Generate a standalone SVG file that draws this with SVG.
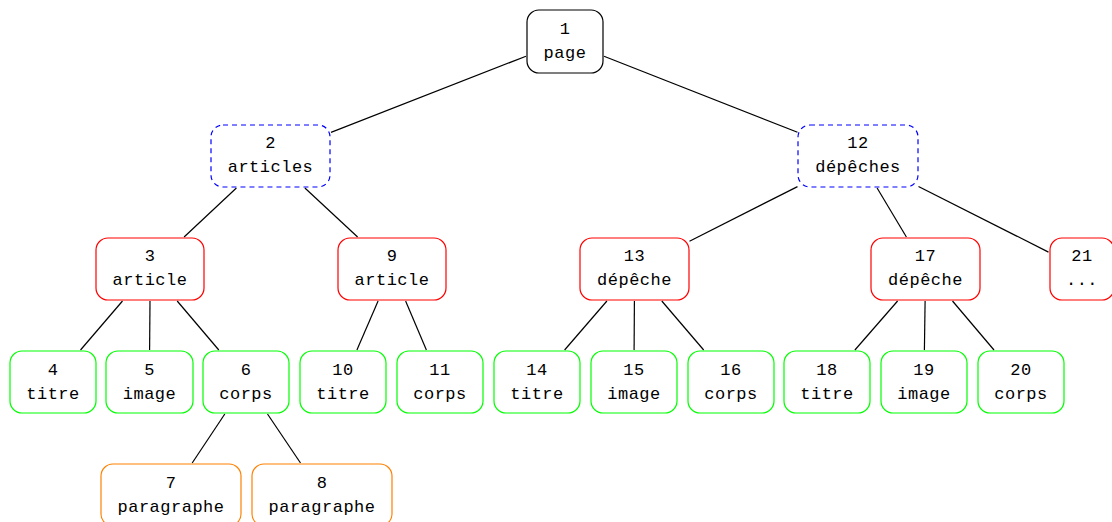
<svg xmlns="http://www.w3.org/2000/svg" width="1112" height="522" viewBox="0 0 1112 522">
  <style>
    .box { fill: #ffffff; stroke-width: 1.2; }
    .root { stroke: #000000; }
    .group { stroke: #0000ff; stroke-dasharray: 5 4; }
    .item { stroke: #ff0000; }
    .leaf { stroke: #00ff00; }
    .para { stroke: #ff8000; }
    text { font-family: "Liberation Mono", "DejaVu Sans Mono", monospace; font-size: 17px; letter-spacing: 0.5px; fill: #000000; text-anchor: middle; }
    #connectors line { stroke: #000000; stroke-width: 1.2; }
  </style>

  <g id="connectors">
    <line x1="526" y1="56.2" x2="331" y2="132.4"/>
    <line x1="604" y1="56.3" x2="797.5" y2="132.3"/>
    <line x1="236.4" y1="188" x2="184.1" y2="237"/>
    <line x1="304.9" y1="188" x2="357.6" y2="237"/>
    <line x1="797.5" y1="186.6" x2="689.5" y2="241.2"/>
    <line x1="877.1" y1="188" x2="906.4" y2="237"/>
    <line x1="918.5" y1="186.5" x2="1048.5" y2="252.1"/>
    <line x1="122.5" y1="301" x2="80.5" y2="350"/>
    <line x1="150" y1="301" x2="149.6" y2="350"/>
    <line x1="177.2" y1="301" x2="218.8" y2="350"/>
    <line x1="378.1" y1="301" x2="356.9" y2="350"/>
    <line x1="405.6" y1="301" x2="426.4" y2="350"/>
    <line x1="606.9" y1="301" x2="564.6" y2="350"/>
    <line x1="634.4" y1="301" x2="634.1" y2="350"/>
    <line x1="661.8" y1="301" x2="703.7" y2="350"/>
    <line x1="897.6" y1="301" x2="854.9" y2="350"/>
    <line x1="925.1" y1="301" x2="924.4" y2="350"/>
    <line x1="952.5" y1="301" x2="994" y2="350"/>
    <line x1="224.8" y1="414" x2="192.2" y2="463"/>
    <line x1="267.5" y1="414" x2="300.5" y2="463"/>
  </g>

  <!-- level 0 -->
  <g id="n1">
    <rect class="box root" x="527" y="10" width="76" height="63" rx="12"/>
    <text x="565" y="34">1</text><text x="565" y="58">page</text>
  </g>

  <!-- level 1 -->
  <g id="n2">
    <rect class="box group" x="211" y="125" width="119" height="62" rx="12"/>
    <text x="270.5" y="148">2</text><text x="270.5" y="172">articles</text>
  </g>
  <g id="n12">
    <rect class="box group" x="798" y="125" width="120" height="62" rx="12"/>
    <text x="858" y="148">12</text><text x="858" y="172">dépêches</text>
  </g>

  <!-- level 2 -->
  <g id="n3">
    <rect class="box item" x="96" y="238" width="108" height="62" rx="12"/>
    <text x="150" y="261">3</text><text x="150" y="285">article</text>
  </g>
  <g id="n9">
    <rect class="box item" x="338" y="238" width="108" height="62" rx="12"/>
    <text x="392" y="261">9</text><text x="392" y="285">article</text>
  </g>
  <g id="n13">
    <rect class="box item" x="580" y="238" width="109" height="62" rx="12"/>
    <text x="634.5" y="261">13</text><text x="634.5" y="285">dépêche</text>
  </g>
  <g id="n17">
    <rect class="box item" x="871" y="238" width="109" height="62" rx="12"/>
    <text x="925.5" y="261">17</text><text x="925.5" y="285">dépêche</text>
  </g>
  <g id="n21">
    <rect class="box item" x="1050" y="238" width="64" height="62" rx="12"/>
    <text x="1082" y="261">21</text><text x="1082" y="285">...</text>
  </g>

  <!-- level 3 -->
  <g id="n4">
    <rect class="box leaf" x="10" y="351" width="86" height="62" rx="12"/>
    <text x="53" y="375">4</text><text x="53" y="399">titre</text>
  </g>
  <g id="n5">
    <rect class="box leaf" x="106" y="351" width="87" height="62" rx="12"/>
    <text x="149.5" y="375">5</text><text x="149.5" y="399">image</text>
  </g>
  <g id="n6">
    <rect class="box leaf" x="203" y="351" width="86" height="62" rx="12"/>
    <text x="246" y="375">6</text><text x="246" y="399">corps</text>
  </g>
  <g id="n10">
    <rect class="box leaf" x="300" y="351" width="86" height="62" rx="12"/>
    <text x="343" y="375">10</text><text x="343" y="399">titre</text>
  </g>
  <g id="n11">
    <rect class="box leaf" x="397" y="351" width="86" height="62" rx="12"/>
    <text x="440" y="375">11</text><text x="440" y="399">corps</text>
  </g>
  <g id="n14">
    <rect class="box leaf" x="494" y="351" width="86" height="62" rx="12"/>
    <text x="537" y="375">14</text><text x="537" y="399">titre</text>
  </g>
  <g id="n15">
    <rect class="box leaf" x="591" y="351" width="86" height="62" rx="12"/>
    <text x="634" y="375">15</text><text x="634" y="399">image</text>
  </g>
  <g id="n16">
    <rect class="box leaf" x="688" y="351" width="86" height="62" rx="12"/>
    <text x="731" y="375">16</text><text x="731" y="399">corps</text>
  </g>
  <g id="n18">
    <rect class="box leaf" x="784" y="351" width="86" height="62" rx="12"/>
    <text x="827" y="375">18</text><text x="827" y="399">titre</text>
  </g>
  <g id="n19">
    <rect class="box leaf" x="881" y="351" width="86" height="62" rx="12"/>
    <text x="924" y="375">19</text><text x="924" y="399">image</text>
  </g>
  <g id="n20">
    <rect class="box leaf" x="978" y="351" width="86" height="62" rx="12"/>
    <text x="1021" y="375">20</text><text x="1021" y="399">corps</text>
  </g>

  <!-- level 4 -->
  <g id="n7">
    <rect class="box para" x="101" y="464" width="140" height="62" rx="12"/>
    <text x="171" y="488">7</text><text x="171" y="512">paragraphe</text>
  </g>
  <g id="n8">
    <rect class="box para" x="252" y="464" width="140" height="62" rx="12"/>
    <text x="322" y="488">8</text><text x="322" y="512">paragraphe</text>
  </g>
</svg>
